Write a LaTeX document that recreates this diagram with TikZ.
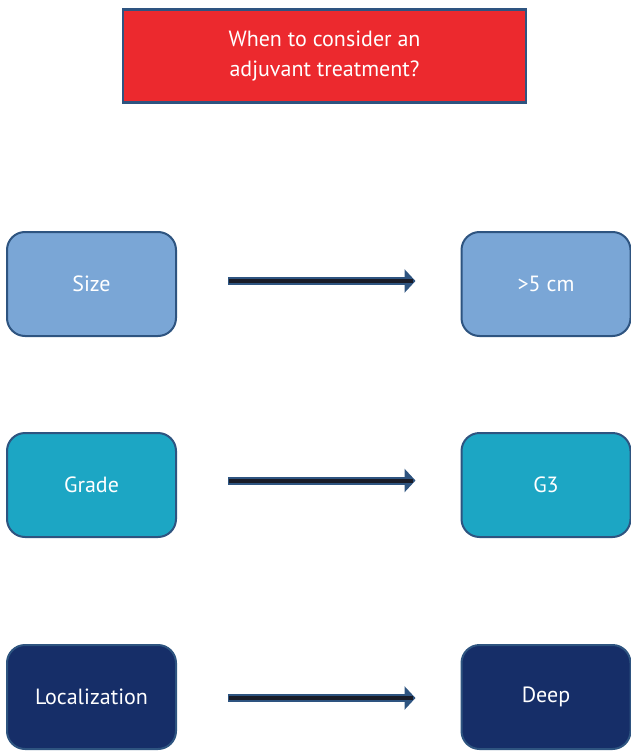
\documentclass[tikz,border=0pt]{standalone}
\usepackage{fontspec}
\setmainfont{PT Sans}
\usetikzlibrary{arrows.meta}
\definecolor{edgeblue}{RGB}{46,84,128}
\definecolor{titlered}{RGB}{236,41,46}
\definecolor{lightbox}{RGB}{122,166,214}
\definecolor{tealbox}{RGB}{28,166,196}
\definecolor{navybox}{RGB}{22,46,104}
\definecolor{shaft}{RGB}{25,28,40}
\tikzset{
  box/.style={draw=edgeblue, line width=2pt, rounded corners=18pt, minimum width=169pt, minimum height=104pt, text=white, font=\fontsize{22}{25}\selectfont, inner sep=0pt, outer sep=0pt},
  titlebox/.style={draw=edgeblue, line width=2.5pt, fill=titlered, minimum width=403pt, minimum height=93pt, text=white, font=\fontsize{22}{29.5}\selectfont, align=center, inner sep=0pt, outer sep=0pt},
  bigarrow/.style={draw=edgeblue, line width=8pt, -{Triangle[length=11pt,width=23pt]}, shorten <=52pt, shorten >=46pt},
  arrowcore/.style={draw=shaft, line width=4pt, shorten <=53pt, shorten >=49pt},
}
\begin{document}
\begin{tikzpicture}[x=1pt,y=-1pt]
\useasboundingbox (0,0) rectangle (631,752);
\node[titlebox] (title) at (324.5,56) {When to consider an\\adjuvant treatment?};
\node[box, fill=lightbox] (size) at (91.5,284) {Size};
\node[box, fill=lightbox] (big) at (546,284) {>5 cm};
\node[box, fill=tealbox] (grade) at (91.5,485) {Grade};
\node[box, fill=tealbox] (g3) at (546,485) {G3};
\node[box, fill=navybox] (loc) at (91.5,697) {Localization};
\node[box, fill=navybox] (deep) at (546,697) {Deep};
\foreach \a/\b/\s in {size/big/3pt, grade/g3/4.5pt, loc/deep/-1pt}{
  \draw[bigarrow] ([yshift=\s]\a.east) -- ([yshift=\s]\b.west);
  \draw[arrowcore] ([yshift=\s]\a.east) -- ([yshift=\s]\b.west);
}
\end{tikzpicture}
\end{document}
